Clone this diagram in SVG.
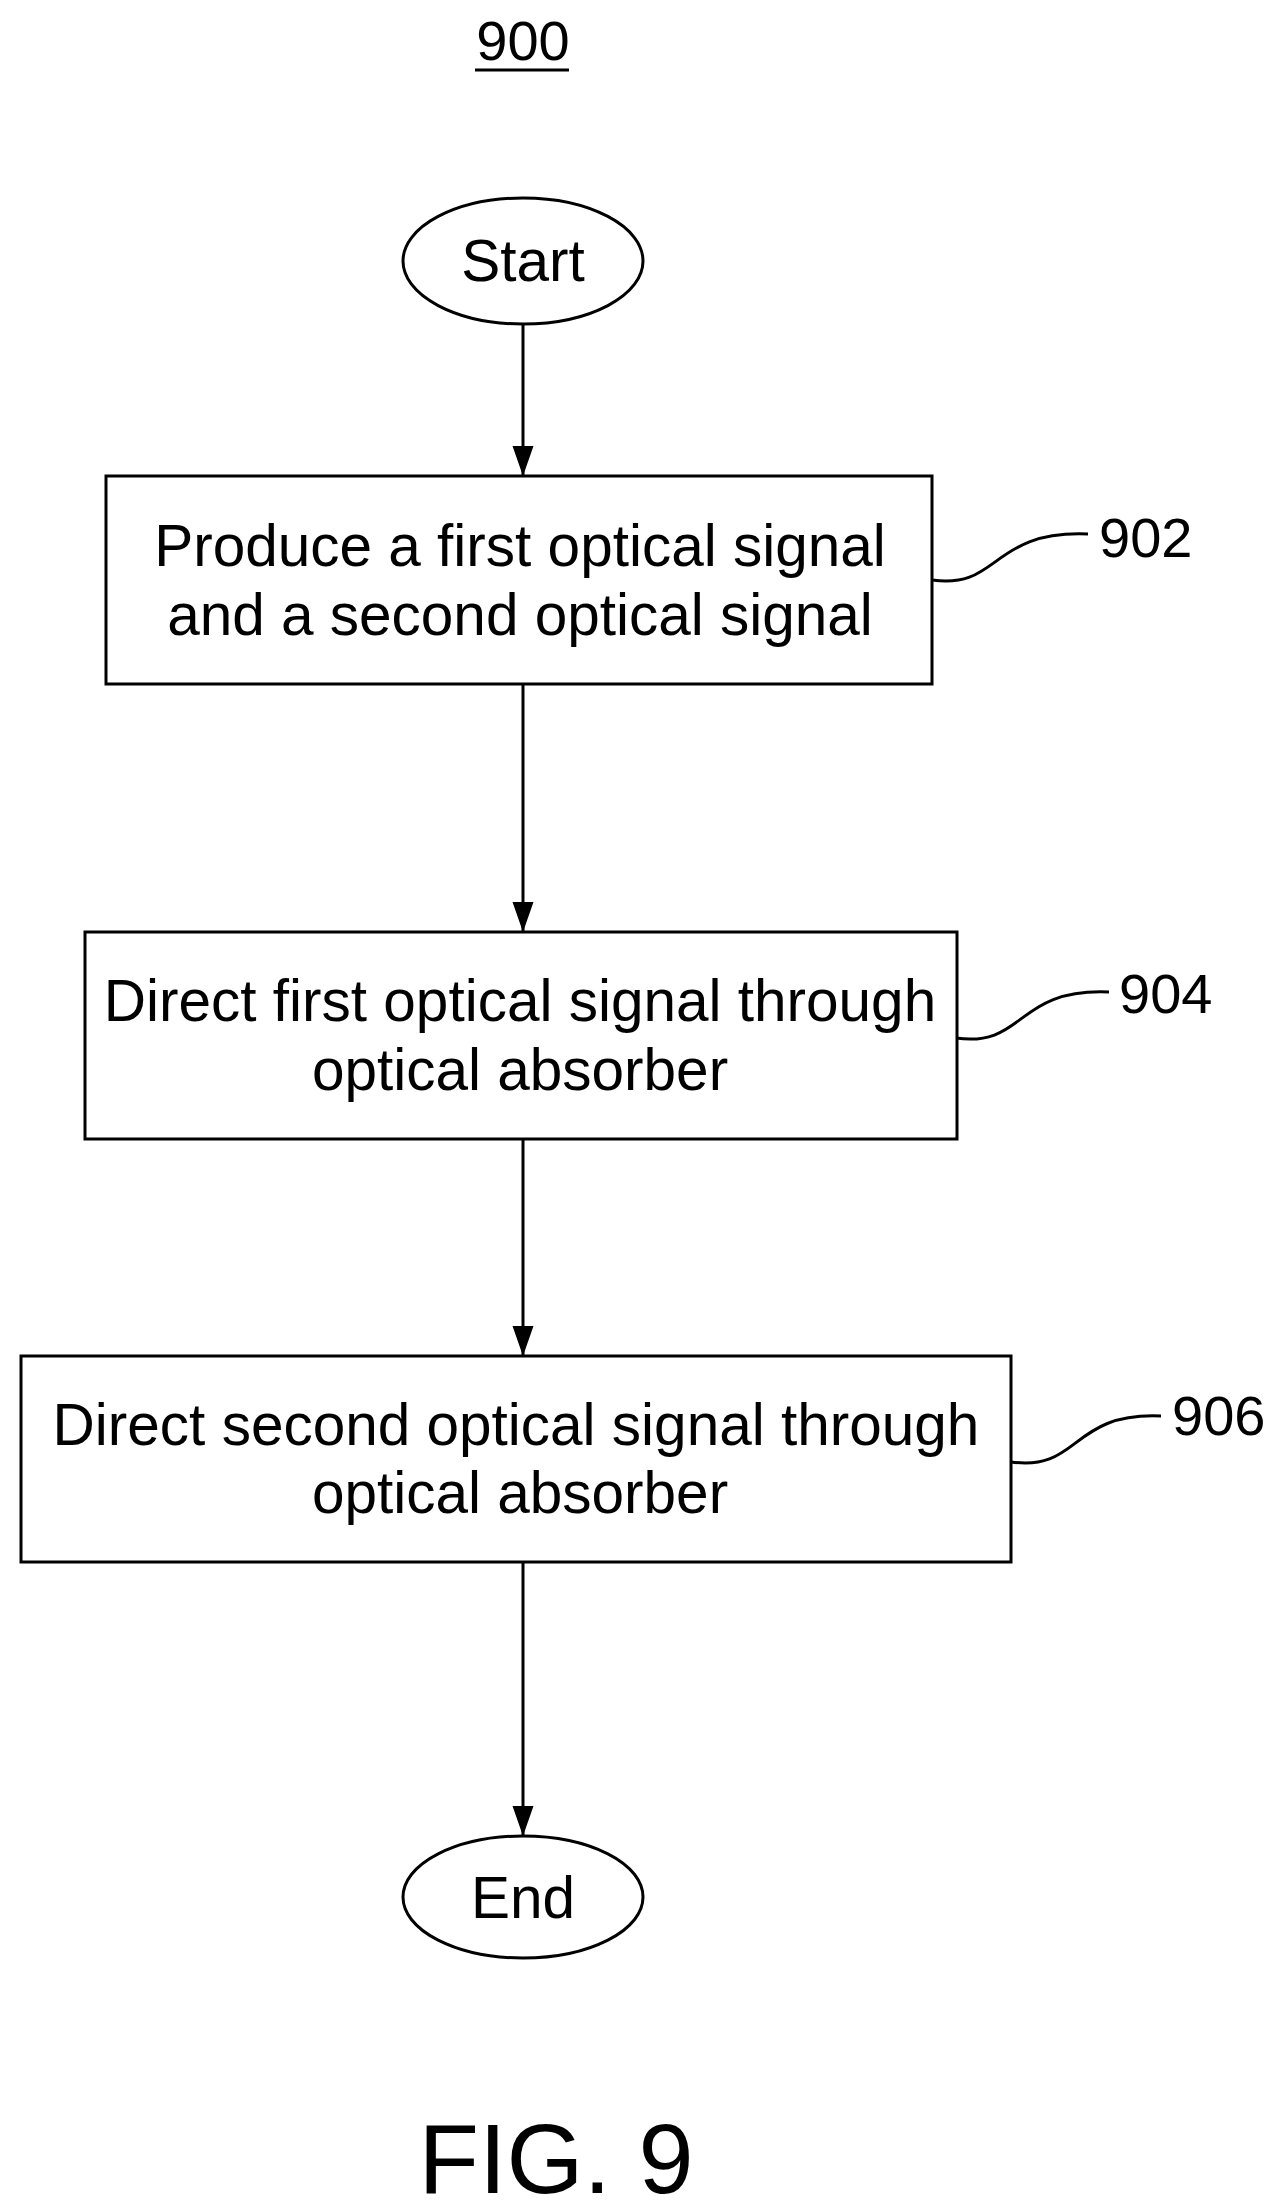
<svg xmlns="http://www.w3.org/2000/svg" width="1284" height="2210" viewBox="0 0 1284 2210">
<defs>
<style>
.s{fill:#fff;stroke:#000;stroke-width:3}
.l{fill:none;stroke:#000;stroke-width:3}
.t{font-family:"Liberation Sans",Arial,sans-serif;font-size:58.5px;fill:#000;text-anchor:middle}
.r{font-family:"Liberation Sans",Arial,sans-serif;font-size:56px;fill:#000}
</style>
<marker id="b" viewBox="0 0 20 20" refX="20" refY="10" markerWidth="30" markerHeight="30" orient="auto" markerUnits="userSpaceOnUse"><path d="M0,3 L20,10 L0,17 z" fill="#000"/></marker>
</defs>
<rect width="1284" height="2210" fill="#fff"/>
<g id="title"><text class="r" x="523" y="60" text-anchor="middle">900</text><line x1="475" y1="70" x2="569" y2="70" stroke="#000" stroke-width="3"/></g>
<g id="connectors">
<line class="l" x1="523" y1="324" x2="523" y2="476" marker-end="url(#b)"/>
<line class="l" x1="523" y1="684" x2="523" y2="932" marker-end="url(#b)"/>
<line class="l" x1="523" y1="1139" x2="523" y2="1356" marker-end="url(#b)"/>
<line class="l" x1="523" y1="1562" x2="523" y2="1836" marker-end="url(#b)"/>
<path class="l" d="M932,580 C1000,590 990,530 1088,534"/>
<path class="l" d="M956,1038 C1025,1048 1015,988 1109,992"/>
<path class="l" d="M1011,1462 C1080,1472 1070,1412 1161,1416"/>
</g>
<g id="start"><ellipse class="s" cx="523" cy="261" rx="120" ry="63"/><text class="t" x="523" y="281">Start</text></g>
<g id="n902"><rect class="s" x="106" y="476" width="826" height="208"/><text class="t" x="520" y="566">Produce a first optical signal</text><text class="t" x="520" y="635">and a second optical signal</text><text class="r" x="1099" y="557">902</text></g>
<g id="n904"><rect class="s" x="85" y="932" width="872" height="207"/><text class="t" x="520" y="1021">Direct first optical signal through</text><text class="t" x="520" y="1090">optical absorber</text><text class="r" x="1119" y="1013">904</text></g>
<g id="n906"><rect class="s" x="21" y="1356" width="990" height="206"/><text class="t" x="516" y="1445">Direct second optical signal through</text><text class="t" x="520" y="1513">optical absorber</text><text class="r" x="1172" y="1435">906</text></g>
<g id="end"><ellipse class="s" cx="523" cy="1897" rx="120" ry="61"/><text class="t" x="523" y="1918">End</text></g>
<text x="556" y="2193" font-family="Liberation Sans,Arial,sans-serif" font-size="99" text-anchor="middle">FIG. 9</text>
</svg>
